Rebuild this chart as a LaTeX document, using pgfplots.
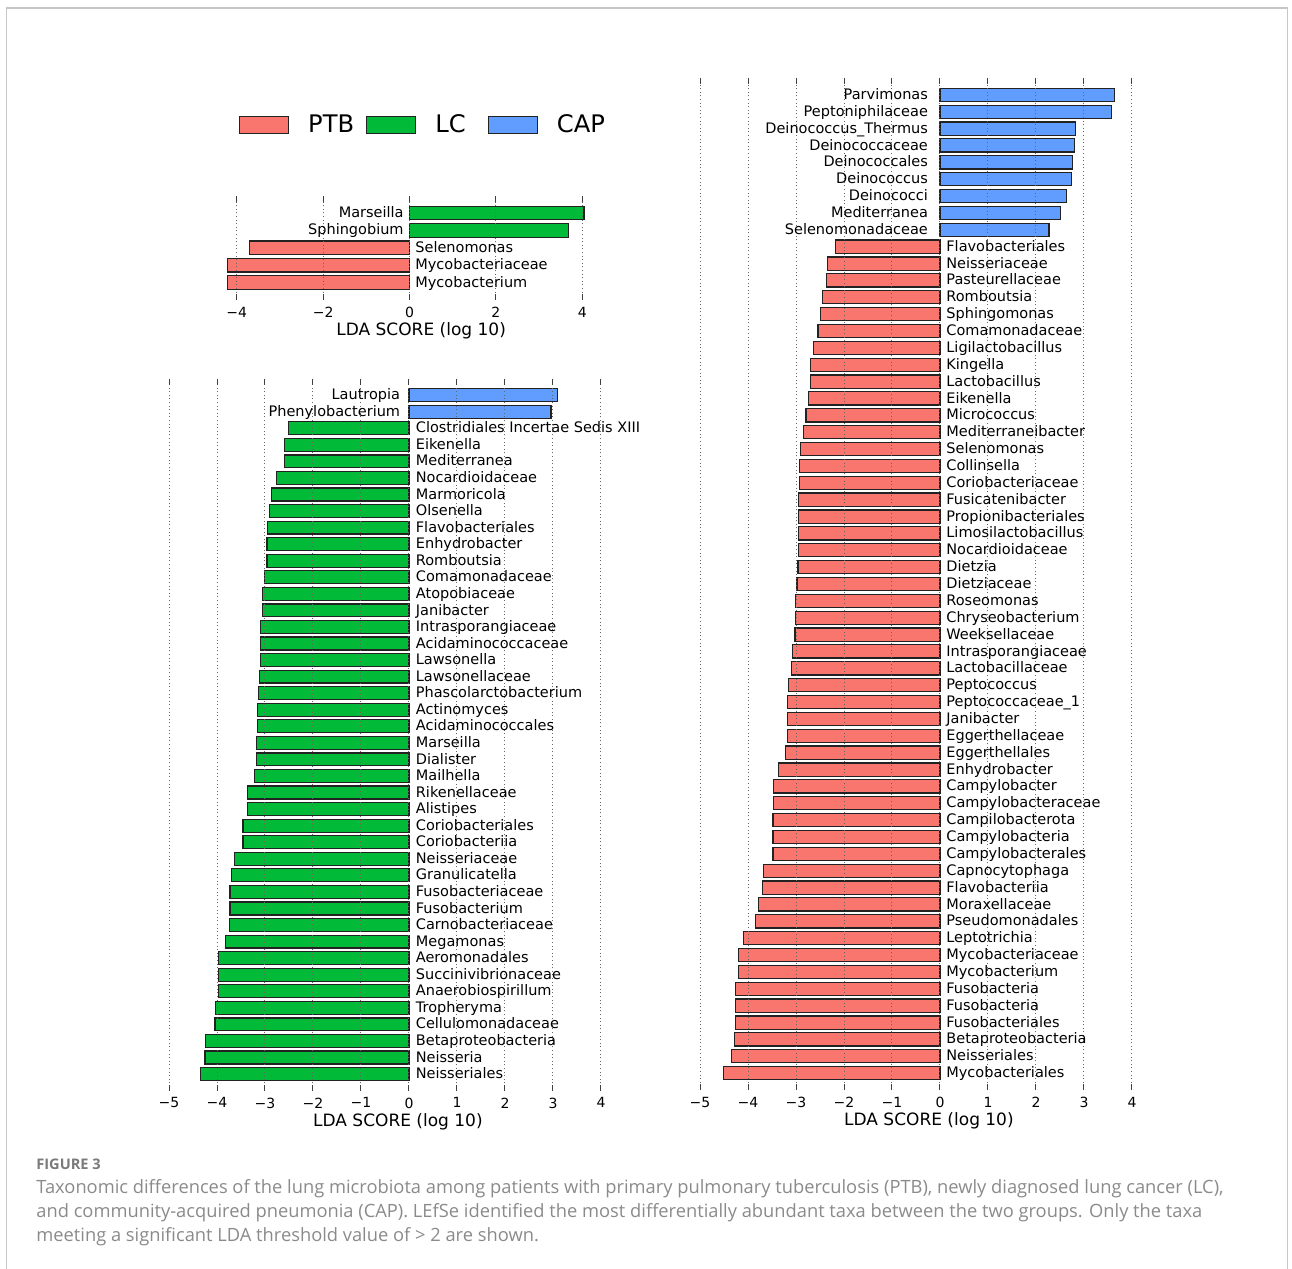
\documentclass[border=0pt]{standalone}
\usepackage{fontspec}
\setmainfont{DejaVu Sans}
\newfontfamily\capfont{Open Sans}
\usepackage{pgfplots}
\usepackage{pgfplotstable}
\pgfplotsset{compat=1.18}
\definecolor{ptb}{HTML}{F8766D}
\definecolor{lc}{HTML}{00BA38}
\definecolor{cap}{HTML}{619CFF}
\definecolor{edge}{HTML}{222222}
\definecolor{captxt}{HTML}{8A8A8A}
\definecolor{captitle}{HTML}{7A7A7A}
\newcommand\lab{\fontsize{7.25pt}{8.5pt}\selectfont}

% ---------- right panel ----------
\pgfplotstableread[col sep=comma]{
y,v,name
58,3.63,Parvimonas
57,3.58,Peptoniphilaceae
56,2.83,Deinococcus\textunderscore{}Thermus
55,2.81,Deinococcaceae
54,2.76,Deinococcales
53,2.74,Deinococcus
52,2.64,Deinococci
51,2.51,Mediterranea
50,2.27,Selenomonadaceae
}\rcap
\pgfplotstableread[col sep=comma]{
y,v,name
49,-2.18,Flavobacteriales
48,-2.35,Neisseriaceae
47,-2.36,Pasteurellaceae
46,-2.44,Romboutsia
45,-2.49,Sphingomonas
44,-2.54,Comamonadaceae
43,-2.64,Ligilactobacillus
42,-2.69,Kingella
41,-2.70,Lactobacillus
40,-2.74,Eikenella
39,-2.79,Micrococcus
38,-2.85,Mediterraneibacter
37,-2.91,Selenomonas
36,-2.93,Collinsella
35,-2.93,Coriobacteriaceae
34,-2.94,Fusicatenibacter
33,-2.95,Propionibacteriales
32,-2.95,Limosilactobacillus
31,-2.95,Nocardioidaceae
30,-2.96,Dietzia
29,-2.98,Dietziaceae
28,-3.01,Roseomonas
27,-3.01,Chryseobacterium
26,-3.02,Weeksellaceae
25,-3.07,Intrasporangiaceae
24,-3.10,Lactobacillaceae
23,-3.15,Peptococcus
22,-3.17,Peptococcaceae\textunderscore{}1
21,-3.18,Janibacter
20,-3.18,Eggerthellaceae
19,-3.22,Eggerthellales
18,-3.36,Enhydrobacter
17,-3.47,Campylobacter
16,-3.47,Campylobacteraceae
15,-3.48,Campilobacterota
14,-3.48,Campylobacteria
13,-3.48,Campylobacterales
12,-3.68,Capnocytophaga
11,-3.70,Flavobacteriia
10,-3.78,Moraxellaceae
9,-3.85,Pseudomonadales
8,-4.10,Leptotrichia
7,-4.20,Mycobacteriaceae
6,-4.20,Mycobacterium
5,-4.26,Fusobacteria
4,-4.26,Fusobacteria
3,-4.26,Fusobacteriales
2,-4.28,Betaproteobacteria
1,-4.35,Neisseriales
0,-4.51,Mycobacteriales
}\rptb

% ---------- bottom-left panel ----------
\pgfplotstableread[col sep=comma]{
y,v,name
41,3.10,Lautropia
40,2.96,Phenylobacterium
}\bcap
\pgfplotstableread[col sep=comma]{
y,v,name
39,-2.51,Clostridiales Incertae Sedis XIII
38,-2.60,Eikenella
37,-2.60,Mediterranea
36,-2.76,Nocardioidaceae
35,-2.87,Marmoricola
34,-2.90,Olsenella
33,-2.95,Flavobacteriales
32,-2.96,Enhydrobacter
31,-2.96,Romboutsia
30,-3.01,Comamonadaceae
29,-3.05,Atopobiaceae
28,-3.06,Janibacter
27,-3.09,Intrasporangiaceae
26,-3.09,Acidaminococcaceae
25,-3.09,Lawsonella
24,-3.12,Lawsonellaceae
23,-3.13,Phascolarctobacterium
22,-3.15,Actinomyces
21,-3.16,Acidaminococcales
20,-3.17,Marseilla
19,-3.17,Dialister
18,-3.22,Mailhella
17,-3.36,Rikenellaceae
16,-3.36,Alistipes
15,-3.46,Coriobacteriales
14,-3.46,Coriobacteriia
13,-3.64,Neisseriaceae
12,-3.69,Granulicatella
11,-3.73,Fusobacteriaceae
10,-3.73,Fusobacterium
9,-3.74,Carnobacteriaceae
8,-3.83,Megamonas
7,-3.97,Aeromonadales
6,-3.97,Succinivibrionaceae
5,-3.97,Anaerobiospirillum
4,-4.03,Tropheryma
3,-4.04,Cellulomonadaceae
2,-4.24,Betaproteobacteria
1,-4.25,Neisseria
0,-4.34,Neisseriales
}\blc

% ---------- top-left panel ----------
\pgfplotstableread[col sep=comma]{
y,v,name
4,4.04,Marseilla
3,3.68,Sphingobium
}\tlc
\pgfplotstableread[col sep=comma]{
y,v,name
2,-3.71,Selenomonas
1,-4.22,Mycobacteriaceae
0,-4.22,Mycobacterium
}\tptb

\pgfplotsset{
  lefse/.style={
    scale only axis, axis on top, clip=false,
    axis line style={draw=none},
    ytick=\empty,
    xmajorgrids,
    grid style={black!60, line width=0.5pt, dash pattern=on 0.5pt off 1.3pt},
    major tick length=3pt, tick align=inside,
    tick style={black!75, line width=0.5pt},
    xticklabel style={font=\fontsize{7pt}{8pt}\selectfont, text=black},
    xlabel={LDA SCORE (log 10)},
    xlabel style={font=\fontsize{8.5pt}{10pt}\selectfont, anchor=center,
                  at={(axis description cs:0.53,0)}, yshift=-15.6pt},
  },
  bars/.style={xbar, bar shift=0pt, bar width=0.78, draw=edge,
               line width=0.6pt, fill=#1, forget plot},
  labL/.style={draw=none, forget plot, nodes near coords,
               point meta=explicit symbolic,
               every node near coord/.append style={anchor=base east,
                 inner sep=0pt, xshift=-#1, yshift=-2.3pt, font=\lab, text=black}},
  labR/.style={draw=none, forget plot, nodes near coords,
               point meta=explicit symbolic,
               every node near coord/.append style={anchor=base west,
                 inner sep=0pt, xshift=#1, yshift=-2.3pt, font=\lab, text=black}},
}

\begin{document}
\begin{tikzpicture}
\useasboundingbox (0,0) rectangle (646pt,634.5pt);
% frame
\draw[black!22, line width=0.75pt] (3.25pt,0pt) -- (3.25pt,630.5pt) -- (643.75pt,630.5pt) -- (643.75pt,0pt);

% top-left panel
\begin{axis}[lefse, at={(107.55pt,484.55pt)}, anchor=south west,
  width=194.4pt, height=52.125pt,
  xmin=-4.5, xmax=4.5, ymin=-1, ymax=5,
  xtick={-4,-2,0,2,4}, xticklabels={−4,−2,0,2,4},
  legend columns=3,
  legend image code/.code={\draw[#1, line width=0.6pt] (0pt,-4.25pt) rectangle (24.5pt,4.25pt);},
  legend style={at={(0.0615,1.675)}, anchor=west, draw=none, fill=none,
    inner sep=0pt, outer sep=0pt, nodes={inner sep=0pt},
    font=\fontsize{12.1pt}{14pt}\selectfont,
    /tikz/column 1/.style={column sep=9.5pt},
    /tikz/column 2/.style={column sep=6pt},
    /tikz/column 3/.style={column sep=9.5pt},
    /tikz/column 4/.style={column sep=11pt},
    /tikz/column 5/.style={column sep=9.5pt}},
]
\addplot[bars=lc] table[x=v, y=y] \tlc;
\addplot[bars=ptb] table[x=v, y=y] \tptb;
\addplot[labL=2.75pt] table[x expr=0, y=y, meta=name] \tlc;
\addplot[labR=2.75pt] table[x expr=0, y=y, meta=name] \tptb;
\addlegendimage{fill=ptb, draw=edge}
\addlegendentry{PTB}
\addlegendimage{fill=lc, draw=edge}
\addlegendentry{LC}
\addlegendimage{fill=cap, draw=edge}
\addlegendentry{CAP}
\end{axis}

% bottom-left panel
\begin{axis}[lefse, at={(84.5pt,89.2pt)}, anchor=south west,
  width=216pt, height=356pt,
  xmin=-5, xmax=4, ymin=-1, ymax=42,
  xtick={-5,-4,-3,-2,-1,0,1,2,3,4},
  xticklabels={−5,−4,−3,−2,−1,0,1,2,3,4},
]
\addplot[bars=cap] table[x=v, y=y] \bcap;
\addplot[bars=lc] table[x=v, y=y] \blc;
\addplot[labL=4.25pt] table[x expr=0, y=y, meta=name] \bcap;
\addplot[labR=3.25pt] table[x expr=0, y=y, meta=name] \blc;
\end{axis}

% right panel
\begin{axis}[lefse, at={(350pt,89.5pt)}, anchor=south west,
  width=216pt, height=506pt,
  xmin=-5, xmax=4, ymin=-1, ymax=59,
  xtick={-5,-4,-3,-2,-1,0,1,2,3,4},
  xticklabels={−5,−4,−3,−2,−1,0,1,2,3,4},
]
\addplot[bars=cap] table[x=v, y=y] \rcap;
\addplot[bars=ptb] table[x=v, y=y] \rptb;
\addplot[labL=5.85pt] table[x expr=0, y=y, meta=name] \rcap;
\addplot[labR=3pt] table[x expr=0, y=y, meta=name] \rptb;
\end{axis}

% caption
\node[anchor=base west, inner sep=0pt, text=captitle, font=\capfont\bfseries\fontsize{7.3pt}{8pt}\selectfont] at (18pt,49.6pt) {FIGURE 3};
\begin{scope}[every node/.style={anchor=base west, inner sep=0pt, text=captxt, font=\capfont\fontsize{9.15pt}{10pt}\selectfont}]
\node at (18pt,37.6pt) {Taxonomic differences of the lung microbiota among patients with primary pulmonary tuberculosis (PTB), newly diagnosed lung cancer (LC),};
\node at (18pt,25.6pt) {and community-acquired pneumonia (CAP). LEfSe identified the most differentially abundant taxa between the two groups. Only the taxa};
\node at (18pt,13.6pt) {meeting a significant LDA threshold value of > 2 are shown.};
\end{scope}
\end{tikzpicture}
\end{document}
